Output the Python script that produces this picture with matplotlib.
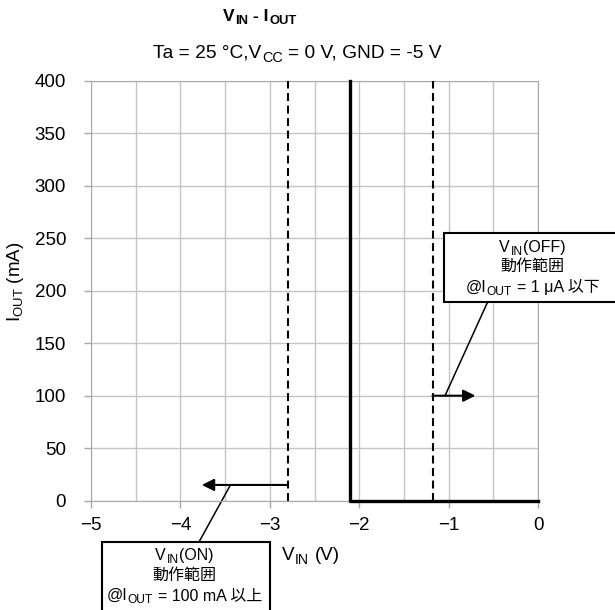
import matplotlib
matplotlib.use('Agg')
import matplotlib.pyplot as plt
import matplotlib.ticker as mticker
from matplotlib.patches import Rectangle

plt.rcParams['font.family'] = ['Liberation Sans', 'Noto Sans CJK JP']
plt.rcParams['mathtext.fontset'] = 'custom'
plt.rcParams['mathtext.rm'] = 'Liberation Sans'

# data
vin_curve = [-2.1, -2.1, 0.0]
iout_curve = [400, 0, 0]
vin_on_limit = -2.8
vin_off_limit = -1.18
on_arrow_y, on_arrow_end = 15, -3.76
off_arrow_y, off_arrow_end = 100, -0.7
x_ticks = [-5, -4, -3, -2, -1, 0]
y_ticks = [0, 50, 100, 150, 200, 250, 300, 350, 400]

W, H = 615, 610
fig = plt.figure(figsize=(W / 100, H / 100), dpi=100)
ax = fig.add_axes([91 / W, 1 - 500.7 / H, (538 - 91) / W, (500.7 - 80.7) / H])

grid_c = '#c4c4c4'
ax.set_xlim(-5, 0)
ax.set_ylim(0, 400)
ax.set_xticks(x_ticks)
ax.set_yticks(y_ticks)
ax.xaxis.set_minor_locator(mticker.MultipleLocator(0.5))
ax.grid(which='both', axis='x', color=grid_c, lw=1.0)
ax.grid(which='major', axis='y', color=grid_c, lw=1.0)
ax.set_axisbelow(True)
for s in ax.spines.values():
    s.set_color('#a8a8a8')
ax.tick_params(axis='x', which='major', length=5, width=1, color='#a8a8a8', pad=7, labelsize=13.5)
ax.tick_params(axis='y', which='major', length=5, width=1, color='#a8a8a8', pad=13, labelsize=13.5)
ax.tick_params(axis='x', which='minor', length=0)

# curve
ax.plot(vin_curve, iout_curve, color='black', lw=2.4, clip_on=False, zorder=5)

# limits
for v in [vin_on_limit, vin_off_limit]:
    ax.plot([v, v], [0, 400], color='black', lw=1.5, linestyle=(0, (3.8, 2.2)), zorder=4)

arrow_kw = dict(arrowstyle='-|>', lw=1.5, color='black', mutation_scale=18, shrinkA=0, shrinkB=0)
ax.annotate('', xy=(off_arrow_end, off_arrow_y), xytext=(vin_off_limit, off_arrow_y), arrowprops=arrow_kw)
ax.annotate('', xy=(on_arrow_end, on_arrow_y), xytext=(vin_on_limit, on_arrow_y), arrowprops=arrow_kw)

# leader lines to the boxes
ax.plot([-1.04, -0.57], [100, 188], color='black', lw=1.1, clip_on=False)
ax.plot([-3.44, -3.79], [15, -39], color='black', lw=1.1, clip_on=False)

# annotation boxes
fig.patches.append(Rectangle((444 / W, 1 - 302 / H), 190 / W, 69 / H, transform=fig.transFigure,
                             facecolor='white', edgecolor='black', lw=1.5, zorder=10))
fig.patches.append(Rectangle((102 / W, -0.05), 168 / W, 1 - 542 / H + 0.05, transform=fig.transFigure,
                             facecolor='white', edgecolor='black', lw=1.5, zorder=10))

renderer = fig.canvas.get_renderer()


def rich_line(xc, yb, parts, size, weight='normal', ha='center'):
    # parts: (text, is_subscript); leading spaces become explicit gaps
    items = []
    for s, sub in parts:
        fs = size * 0.75 if sub else size
        lead = len(s) - len(s.lstrip(' '))
        t = fig.text(0, yb, s.strip(' '), fontsize=fs, fontweight=weight,
                     va='baseline', ha='left', zorder=11)
        w = t.get_window_extent(renderer).width
        gap = lead * 0.278 * fs * 100 / 72
        dy = -0.2 * size * 100 / 72 if sub else 0
        items.append((t, w, gap, dy))
    total = sum(w + g for _, w, g, _ in items)
    cur = xc * W - (total / 2 if ha == 'center' else 0)
    for t, w, g, dy in items:
        cur += g
        t.set_position((cur / W, yb + dy / H))
        cur += w + 0.5


# titles and labels
rich_line(259 / W, 1 - 20.7 / H, [('V', 0), ('IN', 1), (' - I', 0), ('OUT', 1)], 12.5, weight='bold')
rich_line(297 / W, 1 - 58 / H, [('Ta = 25 °C,V', 0), ('CC', 1), (' = 0 V, GND = -5 V', 0)], 13.8)
rich_line(282 / W, 1 - 560 / H, [('V', 0), ('IN', 1), (' (V)', 0)], 13.5, ha='left')
fig.text(16 / W, 1 - 282 / H, r'$\mathregular{I_{OUT}}$ (mA)', ha='center', va='center',
         rotation=90, fontsize=13.5)

box_fs = 11.5
rich_line(532 / W, 1 - 251.7 / H, [('V', 0), ('IN', 1), ('(OFF)', 0)], box_fs)
rich_line(532 / W, 1 - 271 / H, [('動作範囲', 0)], box_fs)
rich_line(532 / W, 1 - 291.7 / H, [('@I', 0), ('OUT', 1), (' = 1 μA 以下', 0)], box_fs)

rich_line(184 / W, 1 - 560 / H, [('V', 0), ('IN', 1), ('(ON)', 0)], box_fs)
rich_line(184 / W, 1 - 580 / H, [('動作範囲', 0)], box_fs)
rich_line(184 / W, 1 - 600 / H, [('@I', 0), ('OUT', 1), (' = 100 mA 以上', 0)], box_fs)

fig.savefig('out.png', dpi=100)
